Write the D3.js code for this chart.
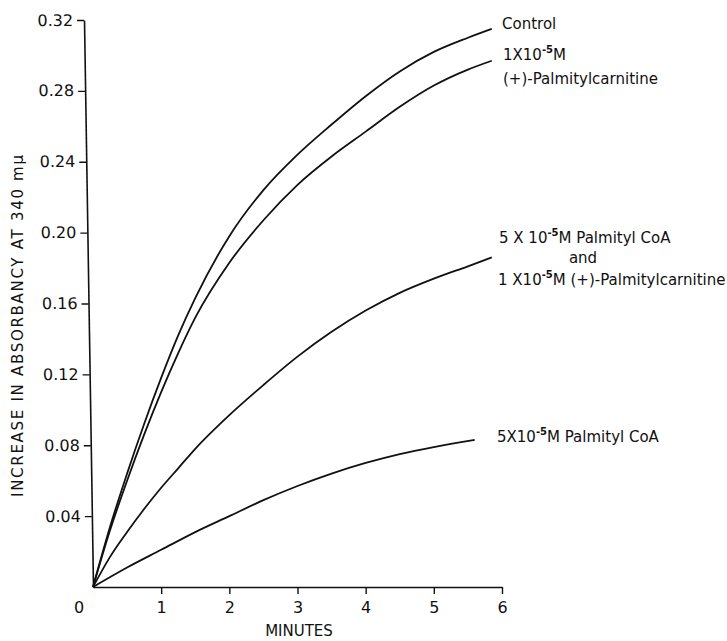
<!DOCTYPE html>
<meta charset="utf-8">
<script src="https://d3js.org/d3.v7.min.js"></script>
<style>
  body { margin: 0; background: #fff; }
  text { font-family: "DejaVu Sans", sans-serif; fill: #111; }
</style>
<body>
<div id="chart"></div>
<script>
var minutes = [0, 0.25, 0.5, 0.75, 1, 1.25, 1.5, 2, 2.5, 3, 3.5, 4, 4.5, 5, 5.5, 5.85];
var control    = [0, 0.034, 0.064, 0.092, 0.118, 0.142, 0.163, 0.198, 0.224, 0.244, 0.261, 0.277, 0.291, 0.302, 0.31, 0.315];
var carnitine  = [0, 0.032, 0.06, 0.086, 0.11, 0.132, 0.152, 0.183, 0.207, 0.227, 0.243, 0.257, 0.271, 0.283, 0.292, 0.297];
var coaAndCarn = [0, 0.017, 0.031, 0.044, 0.056, 0.067, 0.078, 0.097, 0.114, 0.13, 0.144, 0.156, 0.166, 0.174, 0.181, 0.186];
var coaMinutes = [0, 0.5, 1, 1.5, 2, 2.5, 3, 3.5, 4, 4.5, 5, 5.6];
var palmitylCoA = [0, 0.011, 0.021, 0.031, 0.04, 0.049, 0.057, 0.064, 0.07, 0.075, 0.079, 0.083];

var xTicks = [1, 2, 3, 4, 5, 6];
var yTicks = [0.04, 0.08, 0.12, 0.16, 0.20, 0.24, 0.28, 0.32];

var W = 727, H = 641;
var svg = d3.select('#chart').append('svg').attr('width', W).attr('height', H);

var x = d3.scaleLinear().domain([0, 6]).range([93, 502]);
var y = d3.scaleLinear().domain([0, 0.32]).range([587, 20]);

// x axis
var gx = svg.append('g').attr('transform', 'translate(0,' + y(0) + ')')
  .call(d3.axisBottom(x).tickValues(xTicks).tickFormat(d3.format('d')).tickSize(7).tickSizeOuter(0).tickPadding(8));
gx.select('.domain').attr('stroke', '#111').attr('stroke-width', 1.6);
gx.selectAll('.tick line').attr('stroke', '#111').attr('stroke-width', 1.4);
gx.selectAll('.tick text').attr('font-size', 16).attr('fill', '#111').attr('font-family', '"DejaVu Sans", sans-serif');

// the lone "0" under the corner
svg.append('text').attr('x', x(0) - 14).attr('y', y(0) + 26).attr('text-anchor', 'middle')
  .attr('font-size', 16).text('0');

// y axis (hand-drawn axis leans a little to the left)
var lean = Math.atan(9 / (y(0) - y(0.32))) * 180 / Math.PI;
var gy = svg.append('g')
  .attr('transform', 'translate(' + x(0) + ',' + y(0) + ') skewX(' + lean + ') translate(0,' + (-y(0)) + ')')
  .call(d3.axisLeft(y).tickValues(yTicks).tickFormat(d3.format('.2f')).tickSize(7).tickSizeOuter(0).tickPadding(4));
gy.select('.domain').attr('stroke', '#111').attr('stroke-width', 1.6);
gy.selectAll('.tick line').attr('stroke', '#111').attr('stroke-width', 1.4);
gy.selectAll('.tick text').attr('font-size', 16).attr('fill', '#111').attr('font-family', '"DejaVu Sans", sans-serif');

// axis titles
svg.append('text').attr('x', 299).attr('y', 636).attr('text-anchor', 'middle')
  .attr('font-size', 15).text('MINUTES');
svg.append('text').attr('transform', 'translate(23,326) rotate(-90)').attr('text-anchor', 'middle')
  .attr('font-size', 15).attr('textLength', 342).attr('lengthAdjust', 'spacing')
  .text('INCREASE IN ABSORBANCY AT 340 m\u03bc');

// curves
var line = d3.line().x(function(d){ return x(d[0]); }).y(function(d){ return y(d[1]); }).curve(d3.curveMonotoneX);
var series = [
  {t: minutes, v: control},
  {t: minutes, v: carnitine},
  {t: minutes, v: coaAndCarn},
  {t: coaMinutes, v: palmitylCoA}
];
series.forEach(function(s){
  svg.append('path').datum(d3.zip(s.t, s.v)).attr('d', line)
    .attr('fill', 'none').attr('stroke', '#111').attr('stroke-width', 1.8);
});

// labels at the ends of curves
var fs = 15;
function conc(g, num, xx, yy){
  var t = g.append('text').attr('x', xx).attr('y', yy).attr('font-size', fs);
  t.append('tspan').text(num);
  t.append('tspan').attr('dy', -7).attr('font-size', 10).attr('font-weight', 'bold').text('-5');
  t.append('tspan').attr('dy', 7).text('M');
  return t;
}
svg.append('text').attr('x', 502).attr('y', 29).attr('font-size', fs).text('Control');
conc(svg, '1X10', 503, 60);
svg.append('text').attr('x', 503).attr('y', 84).attr('font-size', fs).text('(+)-Palmitylcarnitine');

var t1 = conc(svg, '5 X 10', 499, 243);
t1.append('tspan').text(' Palmityl  CoA');
svg.append('text').attr('x', 583).attr('y', 263).attr('text-anchor', 'middle').attr('font-size', fs).text('and');
var t2 = conc(svg, '1 X10', 498, 285);
t2.append('tspan').text(' (+)-Palmitylcarnitine');

var t3 = conc(svg, '5X10', 497, 442);
t3.append('tspan').text(' Palmityl CoA');
</script>
</body>
